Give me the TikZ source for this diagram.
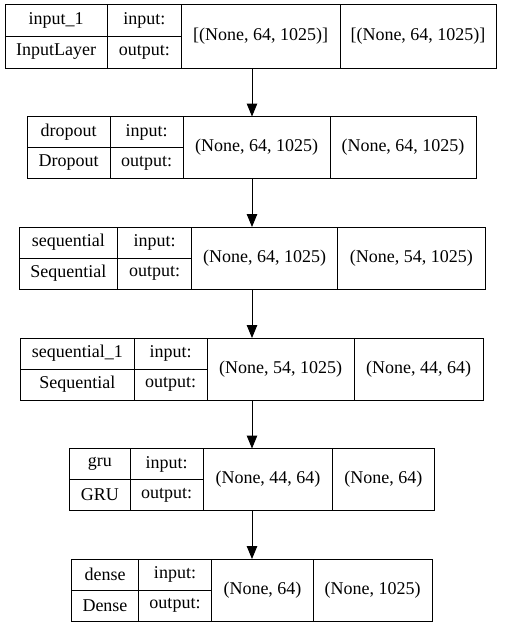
\documentclass[tikz,border=0pt]{standalone}
\usepackage{fontspec}
\setmainfont{Liberation Serif}
\usepackage{tikz}
\usetikzlibrary{arrows.meta}

\begin{document}
\begin{tikzpicture}[x=1pt,y=-1pt,line width=1pt,
  cell/.style={draw, rectangle, anchor=north west, inner sep=0pt, outer sep=0pt, minimum height=31pt, font=\fontsize{18}{21}\selectfont},
  tall/.style={cell, minimum height=62pt},
  layer/.style={rectangle, inner sep=0pt, outer sep=0pt, minimum height=62pt},
  >={Triangle[length=13pt,width=10.5pt]}]
\useasboundingbox (0,0) rectangle (504,627);
% Layers
\node[layer, minimum width=491pt, minimum height=64pt] (input1) at (252,36) {};
\node[layer, minimum width=449pt] (dropout) at (252,147.5) {};
\node[layer, minimum width=466pt] (seq) at (252,258) {};
\node[layer, minimum width=463pt] (seq1) at (252,369) {};
\node[layer, minimum width=364pt] (gru) at (252,479.5) {};
\node[layer, minimum width=360pt] (dense) at (252,590) {};

% Cells
\node[cell, minimum width=102.3pt, minimum height=32pt] (input1n) at (5,4) {input\_1};
\node[cell, minimum width=102.3pt, minimum height=32pt] (input1c) at (5,36) {InputLayer};
\node[cell, minimum width=74pt, minimum height=32pt] (input1i) at (107.3,4) {input:};
\node[cell, minimum width=74pt, minimum height=32pt] (input1o) at (107.3,36) {output:};
\node[tall, minimum width=158.7pt, minimum height=64pt] (input1in) at (181.3,4) {[(None, 64, 1025)]};
\node[tall, minimum width=156pt, minimum height=64pt] (input1out) at (340,4) {[(None, 64, 1025)]};

\node[cell, minimum width=82.7pt] (dropoutn) at (27.3,116.5) {dropout};
\node[cell, minimum width=82.7pt] (dropoutc) at (27.3,147.5) {Dropout};
\node[cell, minimum width=73.3pt] (dropouti) at (110,116.5) {input:};
\node[cell, minimum width=73.3pt] (dropouto) at (110,147.5) {output:};
\node[tall, minimum width=146.7pt] (dropoutin) at (183.3,116.5) {(None, 64, 1025)};
\node[tall, minimum width=146pt] (dropoutout) at (330,116.5) {(None, 64, 1025)};

\node[cell, minimum width=98.7pt] (seqn) at (19,227) {sequential};
\node[cell, minimum width=98.7pt] (seqc) at (19,258) {Sequential};
\node[cell, minimum width=74pt] (seqi) at (117.7,227) {input:};
\node[cell, minimum width=74pt] (seqo) at (117.7,258) {output:};
\node[tall, minimum width=146pt] (seqin) at (191.7,227) {(None, 64, 1025)};
\node[tall, minimum width=147.3pt] (seqout) at (337.7,227) {(None, 54, 1025)};

\node[cell, minimum width=113.3pt] (seq1n) at (20.7,338) {sequential\_1};
\node[cell, minimum width=113.3pt] (seq1c) at (20.7,369) {Sequential};
\node[cell, minimum width=73.3pt] (seq1i) at (134,338) {input:};
\node[cell, minimum width=73.3pt] (seq1o) at (134,369) {output:};
\node[tall, minimum width=146.7pt] (seq1in) at (207.3,338) {(None, 54, 1025)};
\node[tall, minimum width=129.3pt] (seq1out) at (354,338) {(None, 44, 64)};

\node[cell, minimum width=60.3pt] (grun) at (69.7,448.5) {gru};
\node[cell, minimum width=60.3pt] (gruc) at (69.7,479.5) {GRU};
\node[cell, minimum width=73.3pt] (grui) at (130,448.5) {input:};
\node[cell, minimum width=73.3pt] (gruo) at (130,479.5) {output:};
\node[tall, minimum width=129.4pt] (gruin) at (203.3,448.5) {(None, 44, 64)};
\node[tall, minimum width=101.3pt] (gruout) at (332.7,448.5) {(None, 64)};

\node[cell, minimum width=66.6pt] (densen) at (71.7,559) {dense};
\node[cell, minimum width=66.6pt] (densec) at (71.7,590) {Dense};
\node[cell, minimum width=73.4pt] (densei) at (138.3,559) {input:};
\node[cell, minimum width=73.4pt] (denseo) at (138.3,590) {output:};
\node[tall, minimum width=101.6pt] (densein) at (211.7,559) {(None, 64)};
\node[tall, minimum width=118.7pt] (denseout) at (313.3,559) {(None, 1025)};

% Arrows
\draw[->] (input1.south) -- (dropout.north);
\draw[->] (dropout.south) -- (seq.north);
\draw[->] (seq.south) -- (seq1.north);
\draw[->] (seq1.south) -- (gru.north);
\draw[->] (gru.south) -- (dense.north);
\end{tikzpicture}
\end{document}
